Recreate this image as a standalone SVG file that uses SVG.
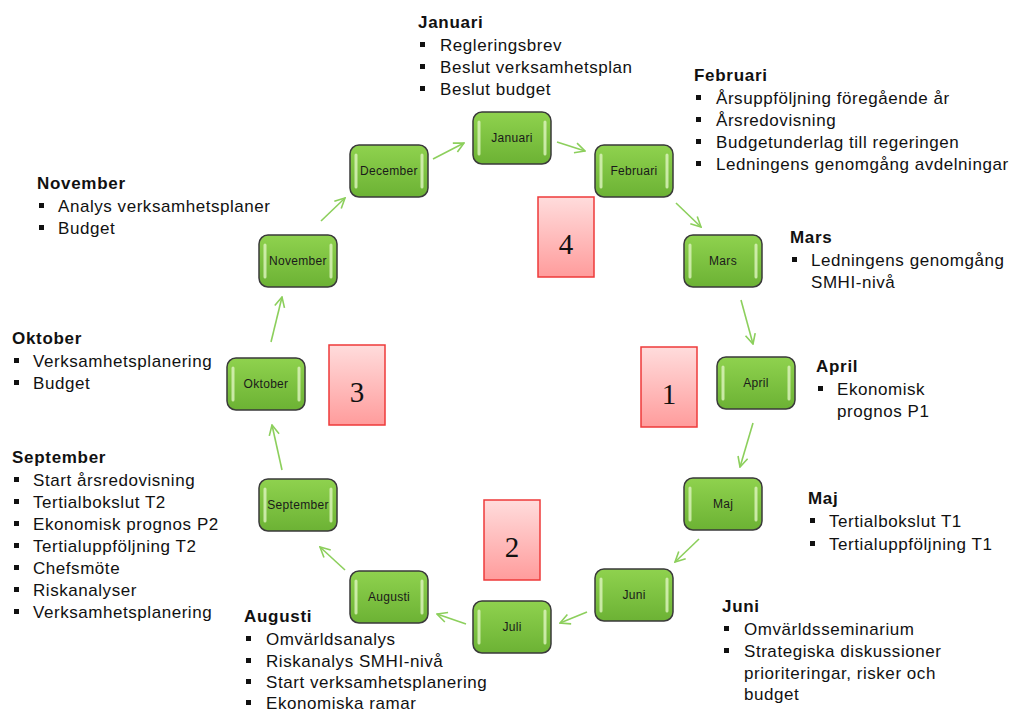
<svg xmlns="http://www.w3.org/2000/svg" width="1013" height="713" viewBox="0 0 1013 713">
<defs>
<linearGradient id="g" x1="0" y1="0" x2="0" y2="1">
<stop offset="0" stop-color="#8fd24e"/>
<stop offset="1" stop-color="#6cb234"/>
</linearGradient>
<linearGradient id="r" x1="0" y1="0" x2="0" y2="1">
<stop offset="0" stop-color="#ffdcdc"/>
<stop offset="1" stop-color="#ff9c9c"/>
</linearGradient>
<marker id="ah" markerWidth="12" markerHeight="12" viewBox="0 0 12 12" refX="11" refY="6" orient="auto" markerUnits="userSpaceOnUse">
<path d="M1,1 L11,6 L1,11" fill="none" stroke="#8ccf5c" stroke-width="1.6"/>
</marker>
</defs>
<style>
.box{fill:url(#g);stroke:#3a3a3a;stroke-width:1.5}
.hl{stroke:#dff5c0;stroke-width:3;stroke-linecap:round;opacity:0.8}
.nl{font-family:"Liberation Sans",Arial,sans-serif;font-size:12px;letter-spacing:0.3px;fill:#1a1a1a;text-anchor:middle}
.red{fill:url(#r);stroke:#ee3a3a;stroke-width:1.5}
.num{font-family:"Liberation Serif","Times New Roman",serif;font-size:29px;fill:#111;text-anchor:middle}
.h{font-family:"Liberation Sans",Arial,sans-serif;font-size:17px;letter-spacing:0.7px;font-weight:bold;fill:#111}
.t{font-family:"Liberation Sans",Arial,sans-serif;font-size:17px;letter-spacing:0.55px;fill:#111}
.b{fill:#111}
.c line{stroke:#8ccf5c;stroke-width:1.6;marker-end:url(#ah)}
</style>
<rect width="1013" height="713" fill="#ffffff"/>

<g class="c" id="connectors">
<line x1="557" y1="142" x2="585" y2="151"/>
<line x1="676" y1="203" x2="701" y2="227"/>
<line x1="741" y1="300" x2="753" y2="344"/>
<line x1="753" y1="423" x2="740" y2="467"/>
<line x1="699" y1="539" x2="675" y2="562"/>
<line x1="587" y1="612" x2="560" y2="623"/>
<line x1="466" y1="624" x2="437" y2="614"/>
<line x1="345" y1="570" x2="320" y2="547"/>
<line x1="282" y1="470" x2="272" y2="425"/>
<line x1="271" y1="342" x2="282" y2="297"/>
<line x1="321" y1="221" x2="345" y2="198"/>
<line x1="433" y1="159" x2="464" y2="143"/>
</g>

<g id="n-jan"><rect class="box" x="473" y="112" width="78" height="52" rx="9"/><line class="hl" x1="479" y1="122" x2="479" y2="154"/><line class="hl" x1="545" y1="122" x2="545" y2="154"/><text class="nl" x="512" y="142">Januari</text></g>
<g id="n-feb"><rect class="box" x="595" y="145" width="78" height="52" rx="9"/><line class="hl" x1="601" y1="155" x2="601" y2="187"/><line class="hl" x1="667" y1="155" x2="667" y2="187"/><text class="nl" x="634" y="175">Februari</text></g>
<g id="n-mar"><rect class="box" x="684" y="235" width="78" height="52" rx="9"/><line class="hl" x1="690" y1="245" x2="690" y2="277"/><line class="hl" x1="756" y1="245" x2="756" y2="277"/><text class="nl" x="723" y="265">Mars</text></g>
<g id="n-apr"><rect class="box" x="717" y="357" width="78" height="52" rx="9"/><line class="hl" x1="723" y1="367" x2="723" y2="399"/><line class="hl" x1="789" y1="367" x2="789" y2="399"/><text class="nl" x="756" y="387">April</text></g>
<g id="n-maj"><rect class="box" x="684" y="478" width="78" height="52" rx="9"/><line class="hl" x1="690" y1="488" x2="690" y2="520"/><line class="hl" x1="756" y1="488" x2="756" y2="520"/><text class="nl" x="723" y="508">Maj</text></g>
<g id="n-jun"><rect class="box" x="595" y="569" width="78" height="52" rx="9"/><line class="hl" x1="601" y1="579" x2="601" y2="611"/><line class="hl" x1="667" y1="579" x2="667" y2="611"/><text class="nl" x="634" y="599">Juni</text></g>
<g id="n-jul"><rect class="box" x="473" y="601" width="78" height="52" rx="9"/><line class="hl" x1="479" y1="611" x2="479" y2="643"/><line class="hl" x1="545" y1="611" x2="545" y2="643"/><text class="nl" x="512" y="631">Juli</text></g>
<g id="n-aug"><rect class="box" x="350" y="571" width="78" height="52" rx="9"/><line class="hl" x1="356" y1="581" x2="356" y2="613"/><line class="hl" x1="422" y1="581" x2="422" y2="613"/><text class="nl" x="389" y="601">Augusti</text></g>
<g id="n-sep"><rect class="box" x="259" y="479" width="78" height="52" rx="9"/><line class="hl" x1="265" y1="489" x2="265" y2="521"/><line class="hl" x1="331" y1="489" x2="331" y2="521"/><text class="nl" x="298" y="509">September</text></g>
<g id="n-okt"><rect class="box" x="227" y="358" width="78" height="52" rx="9"/><line class="hl" x1="233" y1="368" x2="233" y2="400"/><line class="hl" x1="299" y1="368" x2="299" y2="400"/><text class="nl" x="266" y="388">Oktober</text></g>
<g id="n-nov"><rect class="box" x="259" y="235" width="78" height="52" rx="9"/><line class="hl" x1="265" y1="245" x2="265" y2="277"/><line class="hl" x1="331" y1="245" x2="331" y2="277"/><text class="nl" x="298" y="265">November</text></g>
<g id="n-dec"><rect class="box" x="350" y="145" width="78" height="52" rx="9"/><line class="hl" x1="356" y1="155" x2="356" y2="187"/><line class="hl" x1="422" y1="155" x2="422" y2="187"/><text class="nl" x="389" y="175">December</text></g>

<g id="q1"><rect class="red" x="641" y="347" width="56" height="80"/><text class="num" x="669" y="404">1</text></g>
<g id="q2"><rect class="red" x="484" y="500" width="56" height="80"/><text class="num" x="512" y="557">2</text></g>
<g id="q3"><rect class="red" x="329" y="345" width="56" height="80"/><text class="num" x="357" y="402">3</text></g>
<g id="q4"><rect class="red" x="538" y="197" width="56" height="80"/><text class="num" x="566" y="254">4</text></g>

<g id="l-jan">
<text class="h" x="418" y="28">Januari</text>
<rect class="b" x="420" y="42" width="5" height="5"/><text class="t" x="440" y="51">Regleringsbrev</text>
<rect class="b" x="420" y="64" width="5" height="5"/><text class="t" x="440" y="73">Beslut verksamhetsplan</text>
<rect class="b" x="420" y="86" width="5" height="5"/><text class="t" x="440" y="95">Beslut budget</text>
</g>
<g id="l-feb">
<text class="h" x="694" y="81">Februari</text>
<rect class="b" x="696" y="95" width="5" height="5"/><text class="t" x="716" y="104">Årsuppföljning föregående år</text>
<rect class="b" x="696" y="117" width="5" height="5"/><text class="t" x="716" y="126">Årsredovisning</text>
<rect class="b" x="696" y="139" width="5" height="5"/><text class="t" x="716" y="148">Budgetunderlag till regeringen</text>
<rect class="b" x="696" y="161" width="5" height="5"/><text class="t" x="716" y="170">Ledningens genomgång avdelningar</text>
</g>
<g id="l-mar">
<text class="h" x="790" y="243">Mars</text>
<rect class="b" x="792" y="257" width="5" height="5"/><text class="t" x="811" y="266">Ledningens genomgång</text>
<text class="t" x="811" y="288">SMHI-nivå</text>
</g>
<g id="l-apr">
<text class="h" x="816" y="372">April</text>
<rect class="b" x="818" y="386" width="5" height="5"/><text class="t" x="837" y="395">Ekonomisk</text>
<text class="t" x="837" y="417">prognos P1</text>
</g>
<g id="l-maj">
<text class="h" x="808" y="504">Maj</text>
<rect class="b" x="810" y="518" width="5" height="5"/><text class="t" x="829" y="527">Tertialbokslut T1</text>
<rect class="b" x="810" y="541" width="5" height="5"/><text class="t" x="829" y="550">Tertialuppföljning T1</text>
</g>
<g id="l-jun">
<text class="h" x="722" y="612">Juni</text>
<rect class="b" x="724" y="626" width="5" height="5"/><text class="t" x="744" y="635">Omvärldsseminarium</text>
<rect class="b" x="724" y="648" width="5" height="5"/><text class="t" x="744" y="657">Strategiska diskussioner</text>
<text class="t" x="744" y="679">prioriteringar, risker och</text>
<text class="t" x="744" y="700">budget</text>
</g>
<g id="l-aug">
<text class="h" x="244" y="622">Augusti</text>
<rect class="b" x="246" y="636" width="5" height="5"/><text class="t" x="266" y="645">Omvärldsanalys</text>
<rect class="b" x="246" y="658" width="5" height="5"/><text class="t" x="266" y="667">Riskanalys SMHI-nivå</text>
<rect class="b" x="246" y="679" width="5" height="5"/><text class="t" x="266" y="688">Start verksamhetsplanering</text>
<rect class="b" x="246" y="700" width="5" height="5"/><text class="t" x="266" y="709">Ekonomiska ramar</text>
</g>
<g id="l-sep">
<text class="h" x="12" y="463">September</text>
<rect class="b" x="14" y="477" width="5" height="5"/><text class="t" x="33" y="486">Start årsredovisning</text>
<rect class="b" x="14" y="499" width="5" height="5"/><text class="t" x="33" y="508">Tertialbokslut T2</text>
<rect class="b" x="14" y="521" width="5" height="5"/><text class="t" x="33" y="530">Ekonomisk prognos P2</text>
<rect class="b" x="14" y="543" width="5" height="5"/><text class="t" x="33" y="552">Tertialuppföljning T2</text>
<rect class="b" x="14" y="565" width="5" height="5"/><text class="t" x="33" y="574">Chefsmöte</text>
<rect class="b" x="14" y="587" width="5" height="5"/><text class="t" x="33" y="596">Riskanalyser</text>
<rect class="b" x="14" y="609" width="5" height="5"/><text class="t" x="33" y="618">Verksamhetsplanering</text>
</g>
<g id="l-okt">
<text class="h" x="12" y="344">Oktober</text>
<rect class="b" x="14" y="358" width="5" height="5"/><text class="t" x="33" y="367">Verksamhetsplanering</text>
<rect class="b" x="14" y="380" width="5" height="5"/><text class="t" x="33" y="389">Budget</text>
</g>
<g id="l-nov">
<text class="h" x="37" y="189">November</text>
<rect class="b" x="39" y="203" width="5" height="5"/><text class="t" x="58" y="212">Analys verksamhetsplaner</text>
<rect class="b" x="39" y="225" width="5" height="5"/><text class="t" x="58" y="234">Budget</text>
</g>
</svg>
